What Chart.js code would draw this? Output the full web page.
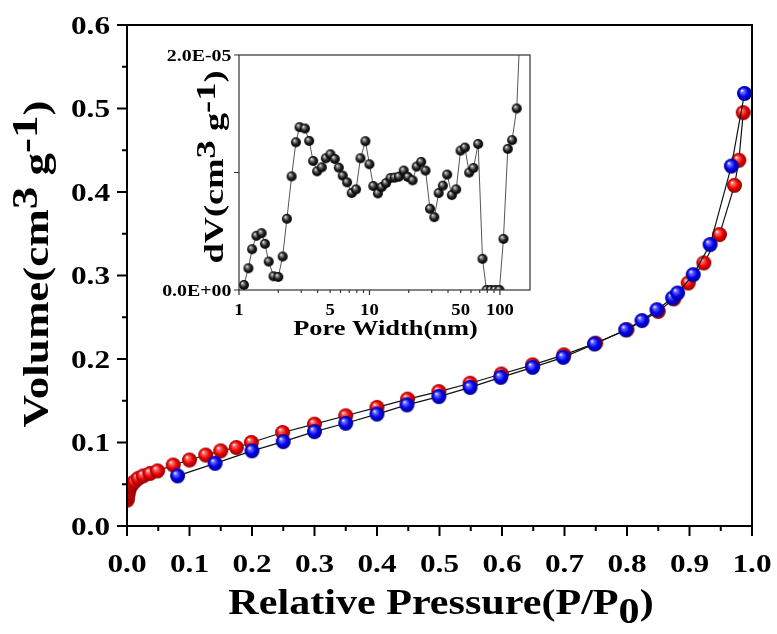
<!DOCTYPE html>
<html><head><meta charset="utf-8">
<script src="https://cdn.jsdelivr.net/npm/chart.js@4/dist/chart.umd.min.js"></script>
<style>
html,body{margin:0;padding:0;background:#fff;}
#wrap{position:relative;width:777px;height:634px;overflow:hidden;}
#main{position:absolute;left:0;top:0;}
#inset{position:absolute;left:150px;top:40px;}
</style></head><body>
<div id="wrap"><canvas id="main" width="777" height="634"></canvas><canvas id="inset" width="400" height="310"></canvas></div>
<script>
// ---------- data ----------
// Adsorption branch (red)
const adsP = [0.0005,0.001,0.002,0.003,0.005,0.008,0.012,0.018,0.026,0.037,0.049,0.074,0.100,0.126,0.150,0.175,0.199,0.249,0.300,0.350,0.400,0.449,0.499,0.549,0.599,0.649,0.699,0.750,0.800,0.850,0.875,0.898,0.923,0.948,0.972,0.979,0.986];
const adsV = [0.031,0.035,0.039,0.043,0.047,0.050,0.053,0.057,0.060,0.063,0.066,0.073,0.079,0.085,0.090,0.094,0.100,0.112,0.122,0.132,0.142,0.152,0.161,0.171,0.182,0.193,0.205,0.219,0.235,0.257,0.272,0.291,0.315,0.349,0.408,0.438,0.495];
// Desorption branch (blue)
const desP = [0.081,0.141,0.200,0.250,0.300,0.350,0.400,0.448,0.499,0.549,0.598,0.649,0.698,0.748,0.798,0.824,0.848,0.873,0.881,0.906,0.933,0.967,0.988];
const desV = [0.060,0.075,0.090,0.101,0.113,0.123,0.134,0.145,0.155,0.166,0.178,0.190,0.202,0.218,0.235,0.246,0.259,0.273,0.279,0.301,0.337,0.431,0.518];
// Pore size distribution (inset): width in nm, dV in units of 1E-06 cm3 g-1
const poreW = [1.09,1.18,1.26,1.36,1.49,1.58,1.69,1.84,2.0,2.16,2.33,2.53,2.73,2.91,3.2,3.45,3.7,3.97,4.31,4.63,5.02,5.42,5.82,6.24,6.74,7.31,7.89,8.53,9.31,9.99,10.7,11.6,12.4,13.4,14.5,15.6,16.8,18.3,19.7,21.4,23.0,24.9,26.9,29.1,31.4,33.9,36.5,39.4,42.8,46.2,49.9,53.9,58.1,62.7,68.1,73.5,78.9,85.1,91.8,99.1,106.4,114.8,123.9,134.5,145];
const poreDV = [0.43,1.85,3.47,4.61,4.84,3.93,2.42,1.17,1.11,2.85,6.06,9.67,12.57,13.86,13.74,12.69,10.98,10.10,10.44,11.21,11.55,11.15,10.41,9.73,9.16,8.25,8.56,11.21,12.66,10.70,8.85,8.22,8.76,9.10,9.53,9.56,9.64,10.16,9.62,9.33,10.50,10.90,10.16,6.91,6.20,8.25,8.88,9.82,8.08,8.56,11.86,12.12,9.99,10.38,12.43,2.65,0,0,0,0,4.35,12.01,12.75,15.45,24];

// ---------- ticks ----------
const mainXTicks = [0,0.1,0.2,0.3,0.4,0.5,0.6,0.7,0.8,0.9,1.0];
const mainXLabels = ['0.0','0.1','0.2','0.3','0.4','0.5','0.6','0.7','0.8','0.9','1.0'];
const mainXMinor = [0.05,0.15,0.25,0.35,0.45,0.55,0.65,0.75,0.85,0.95];
const mainYTicks = [0,0.1,0.2,0.3,0.4,0.5,0.6];
const mainYLabels = ['0.0','0.1','0.2','0.3','0.4','0.5','0.6'];
const mainYMinor = [0.05,0.15,0.25,0.35,0.45,0.55];
const insetXTicks = [1,5,10,50,100];
const insetXLabels = ['1','5','10','50','100'];
const insetXMajor = [1,10,100];
const insetXMinor = [2,3,4,5,6,7,8,9,20,30,40,50,60,70,80,90];
const insetYTicks = [0,0.00001,0.00002];
const insetYLabelVals = [0,0.00002];
const insetYLabels = ['0.0E+00','2.0E-05'];

const FONT = '"Liberation Serif","Times New Roman",serif';

function sphere(d, light, base, dark) {
  const c = document.createElement('canvas');
  c.width = c.height = d + 2;
  const ctx = c.getContext('2d');
  const r = d / 2, cx = (d + 2) / 2;
  const g = ctx.createRadialGradient(cx - 0.35 * r, cx - 0.4 * r, 0.04 * r, cx, cx, r);
  g.addColorStop(0, '#ffffff');
  g.addColorStop(0.18, light);
  g.addColorStop(0.6, base);
  g.addColorStop(1, dark);
  ctx.fillStyle = g;
  ctx.beginPath(); ctx.arc(cx, cx, r, 0, Math.PI * 2); ctx.fill();
  return c;
}

function stretchText(ctx, text, x, y, size, sx, align) {
  ctx.save();
  ctx.font = 'bold ' + size + 'px ' + FONT;
  ctx.fillStyle = '#000';
  ctx.translate(x, y); ctx.scale(sx, 1);
  ctx.textAlign = align; ctx.textBaseline = 'alphabetic';
  ctx.fillText(text, 0, 0);
  ctx.restore();
}

function richText(ctx, parts, x, y, rot, size, sx) {
  ctx.save();
  ctx.font = 'bold ' + size + 'px ' + FONT;
  ctx.fillStyle = '#000';
  ctx.translate(x, y); ctx.rotate(rot); ctx.scale(sx, 1);
  ctx.textAlign = 'left'; ctx.textBaseline = 'alphabetic';
  let total = 0;
  parts.forEach(p => total += ctx.measureText(p.t).width);
  let cx = -total / 2;
  parts.forEach(p => { ctx.fillText(p.t, cx, (p.dy || 0) * size); cx += ctx.measureText(p.t).width; });
  ctx.restore();
}

const mainAxes = {
  id: 'mainAxes',
  afterDraw(chart) {
    const ctx = chart.ctx, a = chart.chartArea, xs = chart.scales.x, ys = chart.scales.y;
    ctx.save();
    ctx.strokeStyle = '#000'; ctx.lineWidth = 2;
    ctx.strokeRect(a.left, a.top, a.right - a.left, a.bottom - a.top);
    ctx.beginPath();
    mainXTicks.forEach(v => { const p = xs.getPixelForValue(v); ctx.moveTo(p, a.bottom); ctx.lineTo(p, a.bottom + 10); });
    mainXMinor.forEach(v => { const p = xs.getPixelForValue(v); ctx.moveTo(p, a.bottom); ctx.lineTo(p, a.bottom + 5); });
    mainYTicks.forEach(v => { const p = ys.getPixelForValue(v); ctx.moveTo(a.left, p); ctx.lineTo(a.left - 10, p); });
    mainYMinor.forEach(v => { const p = ys.getPixelForValue(v); ctx.moveTo(a.left, p); ctx.lineTo(a.left - 5, p); });
    ctx.stroke();
    ctx.restore();
    mainXTicks.forEach((v, i) => stretchText(ctx, mainXLabels[i], xs.getPixelForValue(v), a.bottom + 46, 25, 1.25, 'center'));
    mainYTicks.forEach((v, i) => stretchText(ctx, mainYLabels[i], a.left - 17, ys.getPixelForValue(v) + 8.5, 25, 1.25, 'right'));
    richText(ctx, [{t: 'Relative Pressure(P/P'}, {t: '0', dy: 0.25}, {t: ')'}], 441, 614, 0, 36, 1.17);
    richText(ctx, [{t: 'Volume(cm'}, {t: '3', dy: -0.31}, {t: ' g'}, {t: '-1', dy: -0.31}, {t: ')'}], 48, 264, -Math.PI / 2, 36, 1.25);
  }
};

const insetAxes = {
  id: 'insetAxes',
  afterDraw(chart) {
    const ctx = chart.ctx, a = chart.chartArea, xs = chart.scales.x, ys = chart.scales.y;
    ctx.save();
    ctx.strokeStyle = '#333'; ctx.lineWidth = 1.2;
    ctx.strokeRect(a.left, a.top, a.right - a.left, a.bottom - a.top);
    ctx.beginPath();
    insetXMajor.forEach(v => { const p = xs.getPixelForValue(v); ctx.moveTo(p, a.bottom); ctx.lineTo(p, a.bottom + 5); });
    insetXMinor.forEach(v => { const p = xs.getPixelForValue(v); ctx.moveTo(p, a.bottom); ctx.lineTo(p, a.bottom + 3); });
    insetYTicks.forEach(v => { const p = ys.getPixelForValue(v); ctx.moveTo(a.left, p); ctx.lineTo(a.left - 5, p); });
    ctx.stroke();
    ctx.restore();
    insetXTicks.forEach((v, i) => stretchText(ctx, insetXLabels[i], xs.getPixelForValue(v), a.bottom + 25, 17, 1.1, 'center'));
    insetYLabelVals.forEach((v, i) => stretchText(ctx, insetYLabels[i], a.left - 7.5, ys.getPixelForValue(v) + 6, 17, 1.17, 'right'));
    richText(ctx, [{t: 'Pore Width(nm)'}], (a.left + a.right) / 2 + 1, a.bottom + 45, 0, 22, 1.2);
    richText(ctx, [{t: 'dV(cm'}, {t: '3', dy: -0.3}, {t: ' g'}, {t: '-1', dy: -0.3}, {t: ')'}], 73, 127, -Math.PI / 2, 28, 1.3);
  }
};

function build() {
  const red = sphere(15, '#ff7070', '#ee0000', '#8a0000');
  const blue = sphere(15, '#7070ff', '#0000ee', '#00008a');
  const black = sphere(10, '#9a9a9a', '#202020', '#000000');

  new Chart(document.getElementById('main'), {
    type: 'scatter',
    data: {
      datasets: [
        { label: 'Desorption', data: desP.map((p, i) => ({x: p, y: desV[i]})), showLine: true,
          borderColor: '#111', borderWidth: 1.2, pointStyle: blue, pointRadius: 7.5, clip: 0 },
        { label: 'Adsorption', data: adsP.map((p, i) => ({x: p, y: adsV[i]})), showLine: true,
          borderColor: '#111', borderWidth: 1.2, pointStyle: red, pointRadius: 7.5, clip: 0 }
      ]
    },
    options: {
      responsive: false, animation: false, events: [],
      layout: { padding: { top: 25, right: 25, left: 0, bottom: 0 } },
      plugins: { legend: { display: false }, tooltip: { enabled: false } },
      scales: {
        x: { type: 'linear', min: 0, max: 1, ticks: { display: false }, grid: { display: false }, border: { display: false },
             afterFit: s => { s.height = 108; } },
        y: { type: 'linear', min: 0, max: 0.6, ticks: { display: false }, grid: { display: false }, border: { display: false },
             afterFit: s => { s.width = 127; } }
      }
    },
    plugins: [mainAxes]
  });

  new Chart(document.getElementById('inset'), {
    type: 'scatter',
    data: {
      datasets: [
        { label: 'dV', data: poreW.map((w, i) => ({x: w, y: poreDV[i] * 1e-6})), showLine: true,
          borderColor: '#555', borderWidth: 1, pointStyle: black, pointRadius: 5, clip: 0 }
      ]
    },
    options: {
      responsive: false, animation: false, events: [],
      layout: { padding: { top: 15, right: 20, left: 0, bottom: 0 } },
      plugins: { legend: { display: false }, tooltip: { enabled: false } },
      scales: {
        x: { type: 'logarithmic', min: 1, max: 170, ticks: { display: false }, grid: { display: false }, border: { display: false },
             afterFit: s => { s.height = 60; } },
        y: { type: 'linear', min: 0, max: 0.00002, ticks: { display: false }, grid: { display: false }, border: { display: false },
             afterFit: s => { s.width = 89; } }
      }
    },
    plugins: [insetAxes]
  });
}

const fontReady = (document.fonts && document.fonts.load) ?
  Promise.all([document.fonts.load('bold 20px "Liberation Serif"')]).catch(() => {}) : Promise.resolve();
fontReady.then(build);
</script>
</body></html>
